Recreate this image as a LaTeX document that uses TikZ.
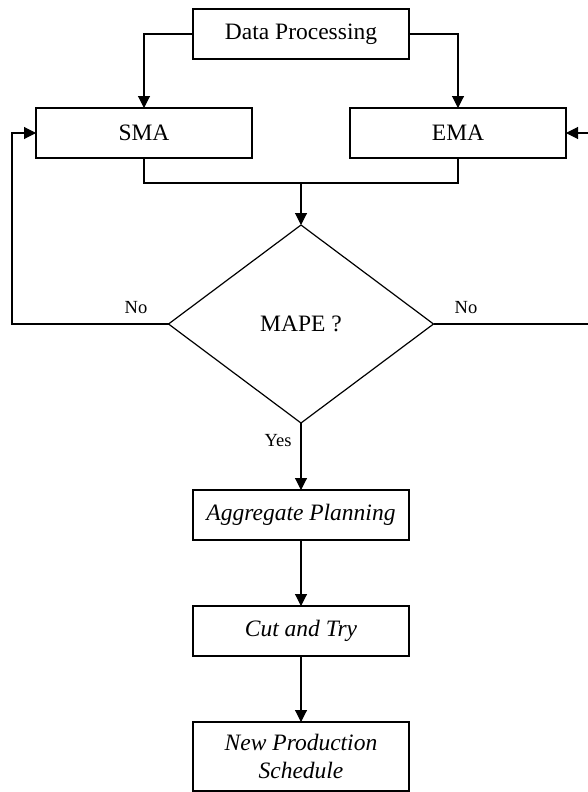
\documentclass[tikz,border=0pt]{standalone}
\usepackage{fontspec}
\setmainfont{Liberation Serif}
\usetikzlibrary{shapes.geometric,arrows.meta}
\begin{document}
\begin{tikzpicture}[x=1pt,y=-1pt,
  every path/.style={line width=1.1pt},
  box/.style={draw, line width=1.1pt, minimum width=216pt, minimum height=50pt, inner sep=0pt, outer sep=0pt, font=\fontsize{23.5}{28}\selectfont, align=center},
  ibox/.style={box, font=\fontsize{23.5}{28}\selectfont\itshape},
  dec/.style={draw, line width=1.2pt, shape=diamond, aspect=1.34, minimum width=265pt, minimum height=198pt, inner sep=0pt, outer sep=0pt, font=\fontsize{23.5}{28}\selectfont},
  lbl/.style={font=\fontsize{18.5}{20}\selectfont, inner sep=0pt},
  arr/.style={-{Triangle[length=12pt,width=12pt]}, line width=1.1pt}
]
\useasboundingbox (0,0) rectangle (587,792);
\node[box] (dp) at (301,34) {Data Processing};
\node[box] (sma) at (144,133) {SMA};
\node[box] (ema) at (458,133) {EMA};
\node[dec] (mape) at (301,324) {MAPE ?};
\node[ibox] (ap) at (301,515) {Aggregate Planning};
\node[ibox] (ct) at (301,631) {Cut and Try};
\node[ibox, minimum height=69pt] (nps) at (301,756.5) {New Production\\Schedule};

\coordinate (jl) at (144,183);
\coordinate (jr) at (458,183);
\coordinate (jm) at (301,183);
\coordinate (lf) at (12,324);
\coordinate (rt) at (589.5,324);

\draw[arr] (dp.west) -| (sma.north);
\draw[arr] (dp.east) -| (ema.north);
\draw (sma.south) -- (jl) -- (jr) -- (ema.south);
\draw[arr] (jm) -- (mape.north);
\draw[arr] (mape.west) -- (lf) |- (sma.west);
\draw[arr] (mape.east) -- (rt) |- (ema.east);
\draw[arr] (mape.south) -- (ap.north);
\draw[arr] (ap.south) -- (ct.north);
\draw[arr] (ct.south) -- (nps.north);

\node[lbl] (nol) at (136,308) {No};
\node[lbl] (nor) at (466,308) {No};
\node[lbl] (yes) at (278,441) {Yes};
\end{tikzpicture}
\end{document}
